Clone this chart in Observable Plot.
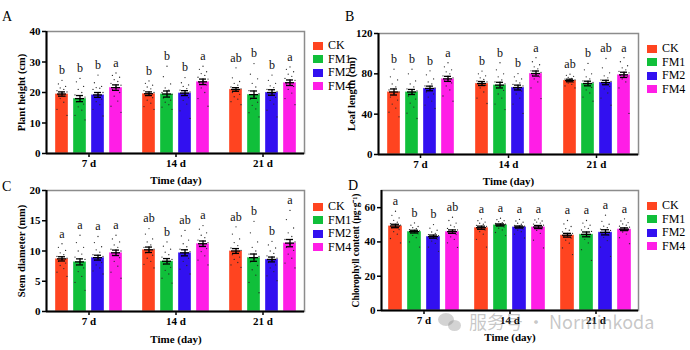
<!DOCTYPE html>
<html><head><meta charset="utf-8">
<script src="https://cdn.jsdelivr.net/npm/d3@7"></script>
<script src="https://cdn.jsdelivr.net/npm/@observablehq/plot@0.6"></script>
<style>
body{margin:0;background:#fff;}
#chart{position:relative;width:690px;height:350px;overflow:hidden;font-family:"Liberation Serif","Times New Roman",serif;color:#000;}
.tag{position:absolute;font-size:14px;line-height:16px;}
.legend{position:absolute;font-size:12px;}
.legend .item{display:flex;align-items:center;height:13.5px;line-height:13.5px;}
.legend .sw{width:10px;height:8px;margin-right:5px;}
.wm{position:absolute;left:469px;top:310px;font-family:"Noto Sans CJK SC","Noto Sans",sans-serif;font-size:18px;line-height:22px;color:rgba(120,120,120,0.42);white-space:nowrap;}
.wmi{position:absolute;border-radius:50%;background:rgba(120,120,120,0.33);}
</style></head><body><div id="chart"></div>
<script>
// ---------- data ----------
const times = ["7 d", "14 d", "21 d"];
const groups = ["CK", "FM1", "FM2", "FM4"];
const colors = ["#FF4420", "#10BF3A", "#3210F0", "#FF1EE6"];

const heightTicks = [0, 10, 20, 30, 40];
const heightMean = [19.5, 18.0, 19.2, 21.6, 19.6, 19.5, 19.8, 23.5, 21.0, 19.3, 20.0, 23.2];
const heightSE = [0.7, 1.0, 0.8, 0.9, 0.6, 1.0, 0.8, 0.9, 0.6, 1.2, 0.9, 0.9];
const heightLetters = ["b", "b", "b", "a", "b", "b", "b", "a", "ab", "b", "b", "a"];
const heightPoints = [
  [24, 22.8, 22, 21.5, 21, 20.6, 20.2, 19.8, 19.3, 18.8, 18, 16.8, 14.5, 12.5],
  [24.6, 23.5, 22, 21, 20, 19.2, 18.5, 17.8, 17, 16.2, 15.3, 14.2, 12.5, 11],
  [25.7, 23.2, 22, 21.6, 21.4, 21, 20, 19.3, 18.5, 17.8, 17, 16, 14.5, 12.3],
  [26.4, 25.6, 25, 24.2, 23.6, 23, 22.4, 21.8, 21, 20, 18.8, 17.2, 15.5, 13.5],
  [23.8, 23, 22.4, 21.8, 21.2, 20.6, 20, 19.5, 19, 18.3, 17.5, 16.5, 15.4, 14.5],
  [28.6, 25.2, 22.8, 21.5, 20.8, 20, 19.4, 18.8, 18.2, 17.5, 16.8, 16, 15.2, 14.5],
  [24.9, 23.2, 22.5, 22, 21.3, 20.8, 20.2, 19.6, 19, 18.3, 17.4, 16.2, 14, 11.5],
  [28.6, 27.6, 26.8, 26.2, 25.6, 25, 24.4, 23.8, 23.2, 22.5, 21.5, 20, 18, 15.5],
  [28.1, 24.8, 23.6, 23, 22.4, 21.8, 21.2, 20.6, 20, 19.4, 18.6, 17.8, 17, 16],
  [29.5, 26, 24.5, 23, 21.8, 20.6, 19.6, 18.7, 17.8, 16.8, 15.8, 14.6, 13.4, 12],
  [25.7, 24, 23, 22.2, 21.6, 21, 20.4, 19.8, 19.2, 18.4, 17.4, 16.2, 14.2, 12],
  [28.4, 27.6, 26.8, 26, 25.3, 24.6, 24, 23.4, 22.8, 22, 21, 19.8, 18, 16]
];

const leafTicks = [0, 40, 80, 120];
const leafMean = [62, 62, 65.5, 75, 70.4, 68.8, 66.4, 80.3, 73.4, 70.4, 71.4, 79];
const leafSE = [3, 2.5, 2.3, 2.5, 2.0, 2.8, 2.4, 2.5, 1.3, 2.3, 2.2, 2.6];
const leafLetters = ["b", "b", "b", "a", "b", "b", "b", "a", "ab", "b", "ab", "a"];
const leafPoints = [
  [84.6, 77, 74, 70, 67, 64, 62, 60, 57, 54, 50, 46, 42, 37.4],
  [84.6, 80, 73, 70, 67, 65, 63, 61, 58, 55, 51, 47, 41, 35.7],
  [83, 79, 75, 72, 70, 68, 66, 64, 62, 60, 57, 53, 49, 45.6],
  [91, 87, 84, 82, 80, 78, 76, 74.5, 73, 71, 68, 64, 58, 52.9],
  [82.7, 80, 78, 76, 74.5, 73, 72, 71, 70, 68.5, 66, 62, 56, 50.6],
  [91, 84, 80, 77, 74, 72, 70, 68, 66, 63.5, 60, 56, 50, 44.6],
  [80.3, 77, 75, 73, 71, 69.5, 68, 66.5, 65, 63, 60, 56, 50, 40.7],
  [96, 92, 89, 87, 85, 83, 81.5, 80, 78.5, 77, 75, 72, 66, 55.5],
  [79.7, 78.5, 77.5, 76.5, 75.5, 74.8, 74, 73.3, 72.6, 71.8, 70.8, 69.6, 68, 66],
  [90.3, 84, 80, 77, 75, 73, 71.5, 70, 68.5, 66.5, 64, 61, 57, 52.9],
  [95.2, 86, 81, 78, 76, 74, 72.5, 71, 69.5, 67.5, 65, 61, 56, 48.9],
  [96, 92, 88, 86, 84, 82.5, 81, 80, 78.5, 77, 75, 72, 66, 40.7]
];

const stemTicks = [0, 5, 10, 15, 20];
const stemMean = [8.7, 8.2, 8.9, 9.7, 10.2, 8.3, 9.7, 11.2, 10.0, 8.9, 8.6, 11.3];
const stemSE = [0.35, 0.5, 0.4, 0.45, 0.45, 0.45, 0.5, 0.45, 0.4, 0.6, 0.4, 0.6];
const stemLetters = ["a", "a", "a", "a", "ab", "b", "ab", "a", "ab", "b", "b", "a"];
const stemPoints = [
  [11.2, 10.6, 10.1, 9.7, 9.4, 9.1, 8.8, 8.6, 8.3, 8, 7.6, 7.1, 6.5, 5.8],
  [12.6, 11.4, 10.6, 10, 9.5, 9, 8.6, 8.2, 7.7, 7.2, 6.6, 5.8, 4.8, 3.5],
  [12.4, 11.4, 10.7, 10.2, 9.8, 9.4, 9.1, 8.8, 8.5, 8.1, 7.7, 7.2, 6.7, 6.2],
  [12.6, 12, 11.5, 11, 10.6, 10.3, 10, 9.7, 9.3, 8.9, 8.3, 7.5, 6.5, 5.5],
  [13.7, 12.8, 12, 11.5, 11, 10.6, 10.3, 10, 9.7, 9.3, 8.8, 8.3, 7.8, 7.2],
  [11.5, 10.8, 10.3, 9.8, 9.4, 9, 8.6, 8.2, 7.8, 7.3, 6.8, 6.2, 5.5, 4.7],
  [13.4, 12.5, 11.8, 11.2, 10.7, 10.3, 9.9, 9.6, 9.2, 8.8, 8.3, 7.6, 7, 6.2],
  [14.2, 13.6, 13, 12.6, 12.2, 11.8, 11.4, 11.1, 10.8, 10.4, 9.9, 9.2, 8.5, 7.7],
  [14, 12.8, 12, 11.4, 10.9, 10.5, 10.1, 9.8, 9.4, 9, 8.6, 8.1, 7.7, 7.3],
  [14.9, 13, 11.5, 10.6, 10, 9.5, 9.1, 8.7, 8.2, 7.6, 6.9, 6, 4.8, 3.1],
  [11.6, 11, 10.5, 10, 9.6, 9.2, 8.8, 8.5, 8.1, 7.7, 7.2, 6.6, 5.9, 5.1],
  [16.7, 15.2, 13.8, 13, 12.4, 11.9, 11.5, 11.1, 10.6, 10.1, 9.5, 8.8, 8, 7.2]
];

const chloroTicks = [0, 20, 40, 60];
const chloroMean = [49.3, 46, 43.1, 46, 48.3, 49.9, 48.7, 48.7, 43.9, 44.4, 45.6, 47.4];
const chloroSE = [1.0, 0.8, 0.9, 1.0, 0.9, 0.6, 0.6, 0.9, 1.1, 1.4, 1.5, 0.8];
const chloroLetters = ["a", "b", "b", "ab", "a", "a", "a", "a", "a", "a", "a", "a"];
const chloroPoints = [
  [57.9, 55.5, 54, 52.6, 51.5, 50.6, 49.8, 49, 48.2, 47.2, 46, 44.5, 42, 39.4],
  [51.1, 49.8, 49, 48.3, 47.7, 47.1, 46.5, 46, 45.4, 44.7, 43.8, 42.5, 40, 37],
  [50.1, 48, 46.8, 45.8, 45, 44.3, 43.6, 43, 42.3, 41.5, 40.5, 39.2, 37, 34.5],
  [54.4, 52.5, 51, 49.8, 48.8, 47.9, 47, 46.2, 45.3, 44.3, 43, 41.5, 39.5, 36.8],
  [53.5, 52.4, 51.6, 50.9, 50.3, 49.7, 49.1, 48.5, 47.8, 47, 46, 44.5, 41.5, 37],
  [53.8, 53, 52.4, 51.8, 51.3, 50.8, 50.3, 49.8, 49.3, 48.7, 48, 47, 45.5, 43.7],
  [53.1, 52.2, 51.5, 50.9, 50.3, 49.7, 49.2, 48.7, 48.2, 47.6, 46.9, 46, 44.5, 42.3],
  [53.5, 52.8, 52.2, 51.6, 51, 50.4, 49.8, 49.2, 48.5, 47.7, 46.7, 45, 41, 36.5],
  [52.5, 50.5, 49, 47.8, 46.8, 45.9, 45, 44.2, 43.3, 42.3, 41, 39.3, 36.5, 32.6],
  [52.5, 51, 49.8, 48.8, 47.9, 47, 46.1, 45.2, 44.2, 43, 41.5, 39.4, 35.5, 29.2],
  [55.6, 52, 50.3, 49.2, 48.3, 47.5, 46.7, 45.9, 45, 44, 42.7, 40.8, 37, 31.6],
  [53.5, 52.2, 51.3, 50.5, 49.8, 49.2, 48.6, 48, 47.4, 46.7, 45.8, 44.6, 42.5, 39]
];

// ---------- layout / style ----------
const FONT = "'Liberation Serif', 'Times New Roman', serif";
const jitter = [0, -3.6, 3.6, -1.8, 1.8, -5, 5];

const panels = [
  {tag: "A", left: 0, top: 0, w: 345, h: 185, mL: 46, mR: 41, mT: 31, mB: 32,
   yDomain: [0, 40], ticks: heightTicks, label: "Plant height (cm)", lo: 29, lfs: 10.5, xlo: 30,
   mean: heightMean, se: heightSE, letters: heightLetters, pts: heightPoints,
   fxPi: 0.21, fxPo: 0.075, xPi: 0.3, cap: 3, legend: [313, 39], tagPos: [2, 9]},
  {tag: "B", left: 340, top: 0, w: 345, h: 185, mL: 38, mR: 47, mT: 33, mB: 31,
   yDomain: [0, 120], ticks: leafTicks, label: "Leaf length (cm)", lo: 31, lfs: 10.5, xlo: 30,
   mean: leafMean, se: leafSE, letters: leafLetters, pts: leafPoints,
   fxPi: 0.21, fxPo: 0.075, xPi: 0.3, cap: 3, legend: [647, 42], tagPos: [345, 9]},
  {tag: "C", left: 0, top: 175, w: 345, h: 175, mL: 46, mR: 41, mT: 15, mB: 39,
   yDomain: [0, 20], ticks: stemTicks, label: "Stem diameter (mm)", lo: 29, lfs: 10.5, xlo: 31,
   mean: stemMean, se: stemSE, letters: stemLetters, pts: stemPoints,
   fxPi: 0.21, fxPo: 0.075, xPi: 0.3, cap: 3, legend: [313, 200], tagPos: [2, 179]},
  {tag: "D", left: 340, top: 175, w: 345, h: 175, mL: 41, mR: 47, mT: 15, mB: 40,
   yDomain: [0, 70], ticks: chloroTicks, label: "Chlorophyll content (μg·g⁻¹)", lo: 29, lfs: 9.5, xlo: 30,
   mean: chloroMean, se: chloroSE, letters: chloroLetters, pts: chloroPoints,
   fxPi: 0.18, fxPo: 0.075, xPi: 0.28, cap: 3, legend: [647, 199], tagPos: [348, 178]}
];

const chart = document.getElementById("chart");

function place(el, left, top) {
  el.style.position = "absolute";
  el.style.left = left + "px";
  el.style.top = top + "px";
  chart.appendChild(el);
}

for (const cfg of panels) {
  const rows = cfg.mean.map((m, i) => ({
    time: times[Math.floor(i / 4)], group: groups[i % 4],
    mean: m, se: cfg.se[i], letter: cfg.letters[i], max: d3.max(cfg.pts[i])
  }));
  const pts = cfg.pts.flatMap((arr, i) => arr.map((v, k) => ({
    time: times[Math.floor(i / 4)], group: groups[i % 4], v, j: k % jitter.length
  })));
  const common = {width: cfg.w, height: cfg.h, marginLeft: cfg.mL, marginRight: cfg.mR,
                  marginTop: cfg.mT, marginBottom: cfg.mB};
  const style = {fontFamily: FONT, fontSize: "12px", background: "none", overflow: "visible"};

  const main = Plot.plot({
    ...common, style,
    fx: {domain: times, paddingInner: cfg.fxPi, paddingOuter: cfg.fxPo},
    x: {domain: groups, paddingInner: cfg.xPi, paddingOuter: 0, axis: null},
    y: {domain: cfg.yDomain, axis: null},
    color: {domain: groups, range: colors},
    marks: [
      Plot.barY(rows, {fx: "time", x: "group", y: "mean", fill: "group",
                       stroke: "white", strokeOpacity: 0.35, strokeWidth: 1}),
      ...jitter.map((dx, k) => Plot.dot(pts.filter(p => p.j === k),
        {fx: "time", x: "group", y: "v", dx, r: 0.65, fill: "#2a2a2a", stroke: "none"})),
      Plot.ruleX(rows, {fx: "time", x: "group", y1: d => d.mean - d.se, y2: d => d.mean + d.se,
                        stroke: "#000", strokeWidth: 1.3}),
      Plot.tickY(rows, {fx: "time", x: "group", y: d => d.mean + d.se,
                        insetLeft: cfg.cap, insetRight: cfg.cap, stroke: "#000", strokeWidth: 1.3}),
      Plot.tickY(rows, {fx: "time", x: "group", y: d => d.mean - d.se,
                        insetLeft: cfg.cap, insetRight: cfg.cap, stroke: "#000", strokeWidth: 1.3}),
      Plot.tickY(rows, {fx: "time", x: "group", y: "mean",
                        insetLeft: cfg.cap - 1, insetRight: cfg.cap - 1, stroke: "#000", strokeWidth: 1.3}),
      Plot.text(rows, {fx: "time", x: "group", y: "max", text: "letter", dy: -10,
                       fontSize: 12, fill: "#111"}),
      Plot.axisFx({anchor: "bottom", tickSize: 4, tickPadding: 2, fontWeight: "bold", fontSize: 11,
                   strokeWidth: 1.5, stroke: "#000", label: "Time (day)", labelAnchor: "center",
                   labelArrow: "none", labelOffset: cfg.xlo})
    ]
  });

  const over = Plot.plot({
    ...common, style,
    x: {domain: [0, 1], axis: null},
    y: {domain: cfg.yDomain, axis: null},
    marks: [
      Plot.frame({stroke: "#8c8c8c", strokeWidth: 1.5}),
      Plot.ruleX([0], {stroke: "#000", strokeWidth: 2}),
      Plot.ruleY([0], {stroke: "#000", strokeWidth: 2}),
      Plot.axisY({ticks: cfg.ticks, tickSize: 4, tickPadding: 2, fontWeight: "bold", fontSize: 11,
                  strokeWidth: 1.5, stroke: "#000", tickFormat: d => String(d), label: null}),
      Plot.text([cfg.label], {frameAnchor: "left", text: d => d, rotate: -90, dx: -cfg.lo,
                              textAnchor: "middle", lineAnchor: "top", fontWeight: "bold",
                              fontSize: cfg.lfs, fill: "#000"})
    ]
  });

  place(main, cfg.left, cfg.top);
  place(over, cfg.left, cfg.top);

  // legend
  const lg = document.createElement("div");
  lg.className = "legend";
  groups.forEach((g, i) => {
    const it = document.createElement("div");
    it.className = "item";
    const sw = document.createElement("span");
    sw.className = "sw";
    sw.style.background = colors[i];
    const tx = document.createElement("span");
    tx.textContent = g;
    it.appendChild(sw); it.appendChild(tx);
    lg.appendChild(it);
  });
  place(lg, cfg.legend[0], cfg.legend[1]);

  const tg = document.createElement("div");
  tg.className = "tag";
  tg.textContent = cfg.tag;
  place(tg, cfg.tagPos[0], cfg.tagPos[1]);
}

// watermark
const i1 = document.createElement("div"); i1.className = "wmi";
i1.style.width = "16px"; i1.style.height = "13px"; place(i1, 438, 313);
const i2 = document.createElement("div"); i2.className = "wmi";
i2.style.width = "13px"; i2.style.height = "11px"; place(i2, 448, 320);
const wm = document.createElement("div");
wm.className = "wm";
wm.textContent = "服务号 · Norminkoda";
chart.appendChild(wm);
</script>
</body></html>
